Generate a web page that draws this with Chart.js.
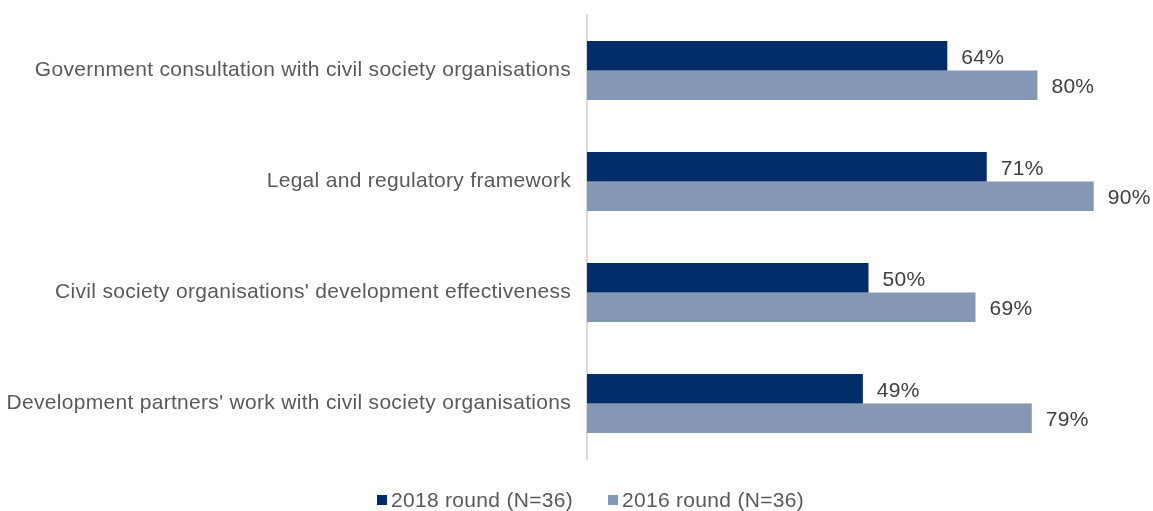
<!DOCTYPE html>
<html><head><meta charset="utf-8">
<script src="https://cdn.jsdelivr.net/npm/chart.js@4.4.1/dist/chart.umd.min.js"></script>
<style>
html,body{margin:0;padding:0;background:#fff}
#wrap{position:relative;width:1153px;height:511px;overflow:hidden}
#c{position:absolute;left:0;top:0}
.lg{position:absolute;top:488px;font-family:'Liberation Sans',Arial,sans-serif;font-size:21px;letter-spacing:0.3px;color:#595959;line-height:24px;white-space:nowrap}
.lg i{position:absolute;left:0;top:7px;width:10px;height:10px}
.lg span{position:absolute;left:14px;top:0}
</style>
</head><body><div id="wrap"><canvas id="c" width="1153" height="511"></canvas>
<div id="legend"></div></div>
<script>
const categories = [
  "Government consultation with civil society organisations",
  "Legal and regulatory framework",
  "Civil society organisations' development effectiveness",
  "Development partners' work with civil society organisations"
];
const series2018 = [64, 71, 50, 49];
const series2016 = [80, 90, 69, 79];
const seriesNames = ["2018 round (N=36)", "2016 round (N=36)"];
const seriesColors = ["#002D6A", "#8497B5"];

const FONT = "'Liberation Sans', Arial, sans-serif";
const LS = '0.3px';

const spacingPlugin = {
  id: 'spacing',
  beforeLayout(chart) { chart.ctx.letterSpacing = LS; },
  beforeDraw(chart) { chart.ctx.letterSpacing = LS; }
};

const labelPlugin = {
  id: 'valLabels',
  afterDatasetsDraw(chart) {
    const ctx = chart.ctx;
    ctx.save();
    ctx.letterSpacing = LS;
    ctx.font = "21px " + FONT;
    ctx.fillStyle = "#404040";
    ctx.textAlign = "left";
    ctx.textBaseline = "middle";
    chart.data.datasets.forEach((ds, i) => {
      chart.getDatasetMeta(i).data.forEach((bar, j) => {
        ctx.fillText(ds.data[j] + "%", bar.x + 14, bar.y + 2);
      });
    });
    ctx.restore();
  }
};

const chart = new Chart(document.getElementById('c'), {
  type: 'bar',
  data: {
    labels: categories,
    datasets: [
      { label: seriesNames[0], data: series2018, backgroundColor: seriesColors[0], categoryPercentage: 0.53, barPercentage: 1.0 },
      { label: seriesNames[1], data: series2016, backgroundColor: seriesColors[1], categoryPercentage: 0.53, barPercentage: 1.0 }
    ]
  },
  options: {
    indexAxis: 'y',
    responsive: false,
    animation: false,
    layout: { padding: { top: 15, right: 3, left: 0, bottom: 52 } },
    scales: {
      x: { min: 0, max: 100, display: false },
      y: {
        grid: { display: false, drawTicks: false },
        border: { display: true, color: '#D9D9D9', width: 2 },
        ticks: { color: '#595959', font: { family: FONT, size: 21 }, padding: 16 },
        afterFit(scale) { scale.width = 587; scale.paddingTop = 0; scale.paddingBottom = 0; }
      }
    },
    plugins: {
      legend: { display: false },
      tooltip: { enabled: false }
    }
  },
  plugins: [spacingPlugin, labelPlugin]
});

// HTML legend built from the series names/colours
const lgX = [377, 608];
const legend = document.getElementById('legend');
seriesNames.forEach((name, i) => {
  const d = document.createElement('div');
  d.className = 'lg';
  d.style.left = lgX[i] + 'px';
  d.innerHTML = '<i style="background:' + seriesColors[i] + '"></i><span></span>';
  d.querySelector('span').textContent = name;
  legend.appendChild(d);
});
</script></body></html>
